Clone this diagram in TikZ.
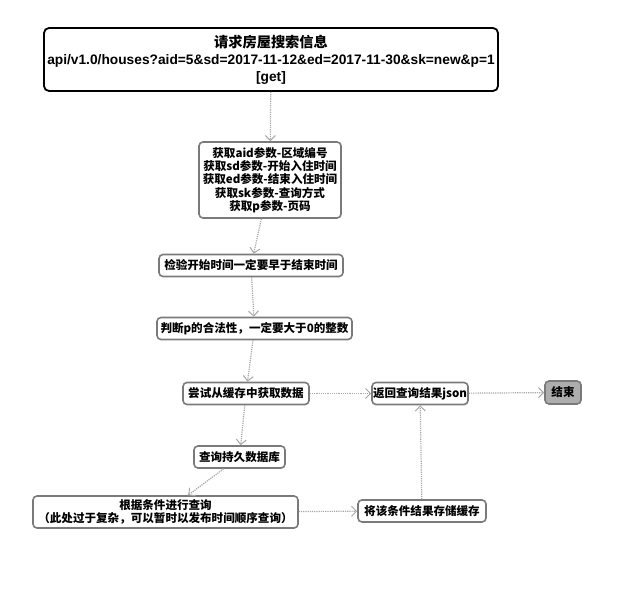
\documentclass[tikz,border=0pt]{standalone}
\usepackage{fontspec}
\setmainfont{Noto Sans CJK SC}
\newfontfamily\latinfont{Liberation Sans}
\usetikzlibrary{arrows.meta}
\definecolor{boxline}{HTML}{7A7A7A}
\definecolor{arrowgray}{HTML}{A8A8A8}
\definecolor{endfill}{HTML}{ADADAD}
\begin{document}
\begin{tikzpicture}[x=1bp,y=-1bp,
  stepbox/.style={draw=boxline,line width=1.6bp,rounded corners=4bp,fill=white,
    align=center,inner sep=0pt,font=\fontsize{11.6}{12.4}\selectfont\bfseries},
  headbox/.style={stepbox,draw=black,line width=1.8bp,rounded corners=5bp,
    font=\fontsize{14.3}{17}\selectfont\bfseries},
  endbox/.style={stepbox,fill=endfill},
  flow/.style={draw=arrowgray,line width=1.2bp,densely dotted,
    -{Straight Barb[length=5bp,width=10bp,line width=1bp]}}]
\useasboundingbox (0,0) rectangle (642,595);
\fill[white] (0,0) rectangle (642,595);

\node[headbox,minimum width=454bp,minimum height=63bp] (req) at (271,59.5)
  {请求房屋搜索信息\\
   {\latinfont\fontsize{13.8}{17}\selectfont api/v1.0/houses?aid=5\&sd=2017-11-12\&ed=2017-11-30\&sk=new\&p=1}\\
   {\latinfont\fontsize{13.8}{17}\selectfont [get]}};

\node[stepbox,minimum width=142bp,minimum height=76bp,
  font=\fontsize{11.6}{13.3}\selectfont\bfseries] (args) at (270,180)
  {获取aid参数-区域编号\\获取sd参数-开始入住时间\\获取ed参数-结束入住时间\\获取sk参数-查询方式\\获取p参数-页码};

\node[stepbox,minimum width=184bp,minimum height=22bp] (dates) at (251,265.5)
  {检验开始时间一定要早于结束时间};

\node[stepbox,minimum width=195bp,minimum height=22bp] (page) at (254.5,328.5)
  {判断p的合法性，一定要大于0的整数};

\node[stepbox,minimum width=126bp,minimum height=22bp] (cache) at (246,393.5)
  {尝试从缓存中获取数据};

\node[stepbox,minimum width=96bp,minimum height=22bp] (json) at (420,393.5)
  {返回查询结果json};

\node[endbox,minimum width=36bp,minimum height=23bp] (done) at (563,392.5)
  {结束};

\node[stepbox,minimum width=91bp,minimum height=22bp] (db) at (239.5,457)
  {查询持久数据库};

\node[stepbox,minimum width=265bp,minimum height=32bp] (query) at (165.5,512)
  {根据条件进行查询\\（此处过于复杂，可以暂时以发布时间顺序查询）};

\node[stepbox,minimum width=128bp,minimum height=22bp] (store) at (422,511)
  {将该条件结果存储缓存};

\draw[flow] (req) -- (args);
\draw[flow] (args) -- (dates);
\draw[flow] (dates) -- (page);
\draw[flow] (page) -- (cache);
\draw[flow] (cache) -- (json);
\draw[flow] (json) -- (done);
\draw[flow] (cache) -- (db);
\draw[flow] (db) -- (query);
\draw[flow] (query) -- (store);
\draw[flow] (store) -- (json);
\end{tikzpicture}
\end{document}
